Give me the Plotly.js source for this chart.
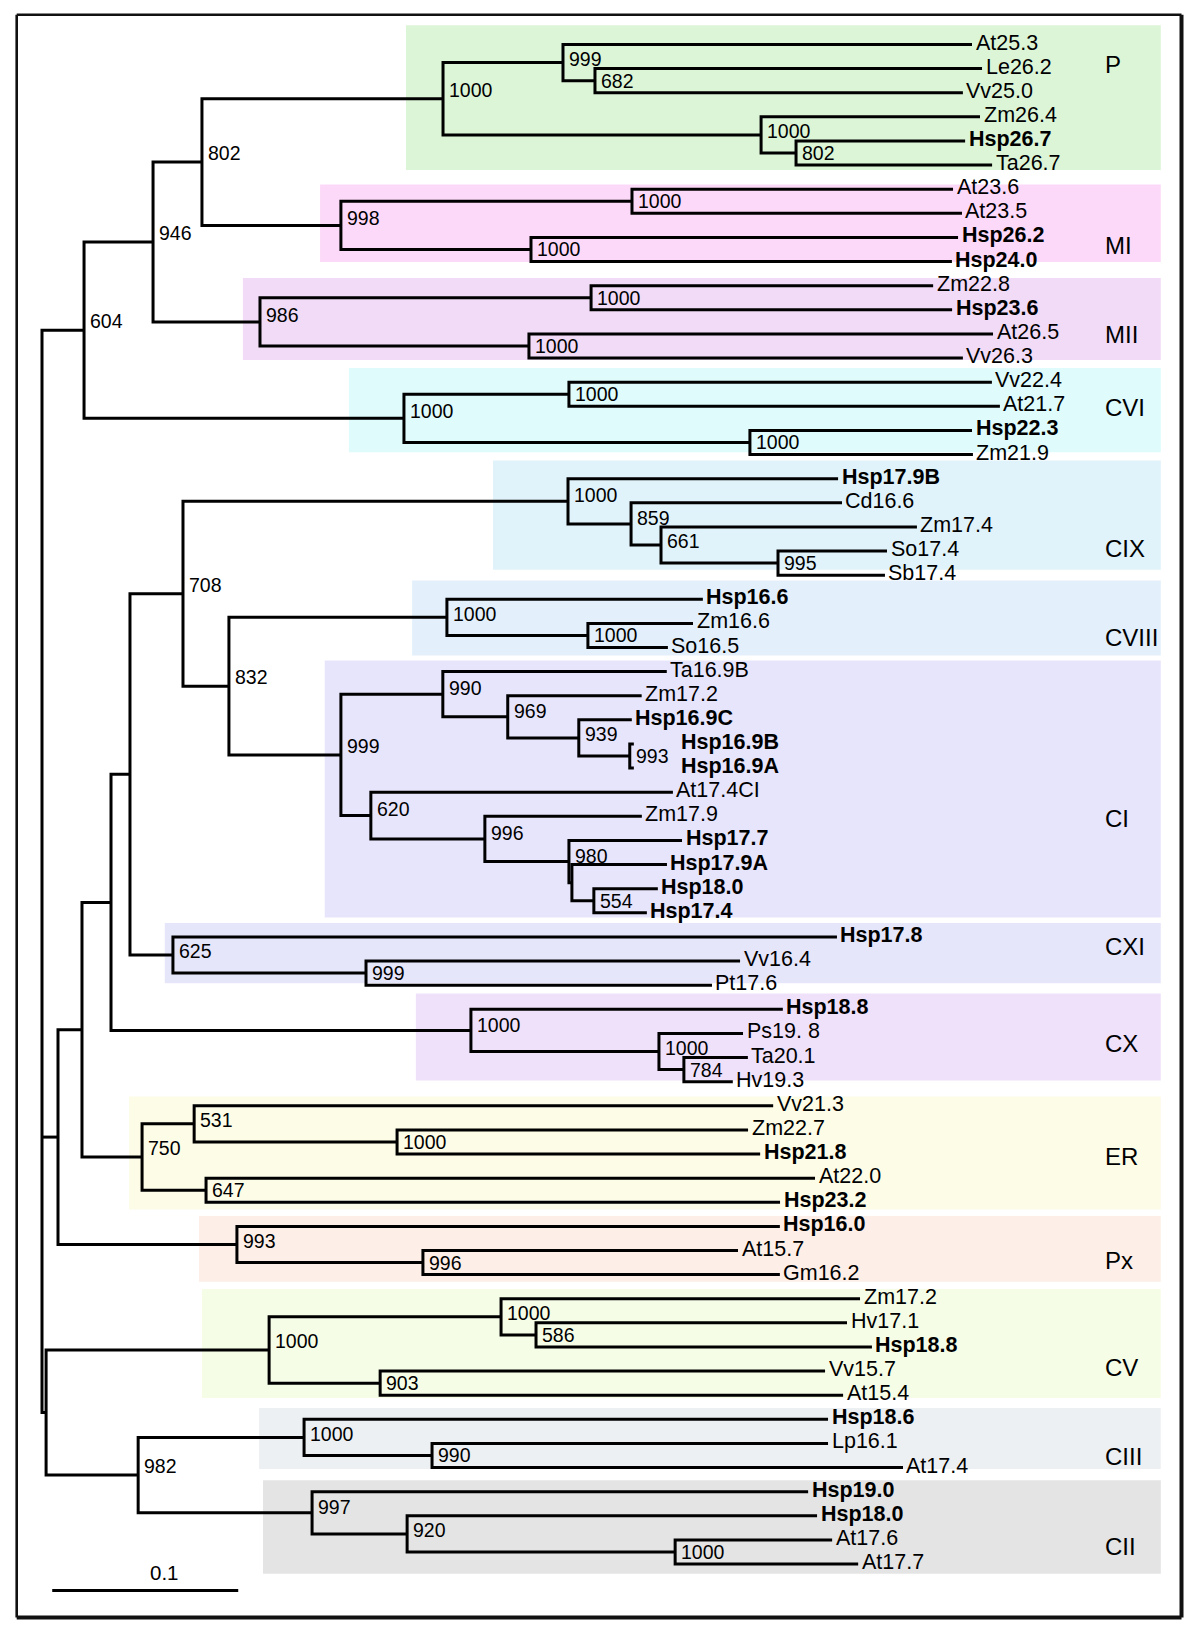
<!DOCTYPE html>
<html><head><meta charset="utf-8">
<script src="https://cdn.plot.ly/plotly-3.0.1.min.js"></script>
<style>html,body{margin:0;padding:0;background:#fff}#chart{width:1200px;height:1635px}</style>
</head><body><div id="chart"></div>
<script>
// ================= DATA =================
// Clade subtrees in Newick: branch lengths (substitutions/site) and bootstrap support (of 1000)
const cladeNames = ["P","MI","MII","CVI","CIX","CVIII","CI","CXI","CX","ER","Px","CV","CIII","CII"];
const newickP    = "((At25.3:0.2199,(Le26.2:0.2081,Vv25.0:0.1978)682:0.0172)999:0.0645,(Zm26.4:0.1177,(Hsp26.7:0.0909,Ta26.7:0.1054)802:0.0188)1000:0.1710)1000";
const newickMI   = "((At23.6:0.1726,At23.5:0.1774)1000:0.1565,(Hsp26.2:0.2296,Hsp24.0:0.2263)1000:0.1022)998";
const newickMII  = "((Zm22.8:0.1839,Hsp23.6:0.1941)1000:0.1780,(At26.5:0.2495,Vv26.3:0.2333)1000:0.1446)986";
const newickCVI  = "((Vv22.4:0.2274,At21.7:0.2317)1000:0.0887,(Hsp22.3:0.1194,Zm21.9:0.1199)1000:0.1860)1000";
const newickCIX  = "(Hsp17.9B:0.1452,(Cd16.6:0.1134,(Zm17.4:0.1376,(So17.4:0.0586,Sb17.4:0.0575)995:0.0629)661:0.0161)859:0.0339)1000";
const newickCVIII= "(Hsp16.6:0.1376,(Zm16.6:0.0565,So16.5:0.0430)1000:0.0758)1000";
const newickCI   = "((Ta16.9B:0.1204,(Zm17.2:0.0720,(Hsp16.9C:0.0285,(Hsp16.9B:0.0022,Hsp16.9A:0.0022)993:0.0274)939:0.0382)969:0.0349)990:0.0548,(At17.4CI:0.1624,(Zm17.9:0.0844,(Hsp17.7:0.0608,(Hsp17.9A:0.0511,(Hsp18.0:0.0344,Hsp17.4:0.0285)554:0.0118):0.0016)980:0.0452)996:0.0613)620:0.0161)999";
const newickCXI  = "(Hsp17.8:0.3570,(Vv16.4:0.2011,Pt17.6:0.1860)999:0.1038)625";
const newickCX   = "(Hsp18.8:0.1677,('Ps19. 8':0.0452,(Ta20.1:0.0344,Hv19.3:0.0263)784:0.0134)1000:0.1011)1000";
const newickER   = "((Vv21.3:0.3113,(Zm22.7:0.1887,Hsp21.8:0.1952)1000:0.1091)531:0.0280,(At22.0:0.3274,Hsp23.2:0.3086)647:0.0344)750";
const newickPx   = "(Hsp16.0:0.2919,(At15.7:0.1694,Gm16.2:0.1919)996:0.1000)993";
const newickCV   = "((Zm17.2:0.1930,(Hv17.1:0.1672,Hsp18.8:0.1806)586:0.0188)1000:0.1247,(Vv15.7:0.2392,At15.4:0.2489)903:0.0597)1000";
const newickCIII = "(Hsp18.6:0.2817,(Lp16.1:0.2129,At17.4:0.2532)990:0.0688)1000";
const newickCII  = "(Hsp19.0:0.2667,(Hsp18.0:0.2204,(At17.6:0.0844,At17.7:0.0984)1000:0.1441)920:0.0511)997";
// Backbone joining the clades (clade names are placeholders)
const newickBackbone = "((((P:0.1296,MI:0.0747)802:0.0263,MII:0.0575)946:0.0371,CVI:0.1720)604:0.0226,(((((CIX:0.2070,(CVIII:0.1172,CI:0.0602)832:0.0247)708:0.0285,CXI:0.0231):0.0102,CX:0.1935):0.0156,ER:0.0323):0.0129,Px:0.0962):0.0086,(CV:0.1199,(CIII:0.0892,CII:0.0935)982:0.0495):0.0022);";
const cladeNewick = {P:newickP,MI:newickMI,MII:newickMII,CVI:newickCVI,CIX:newickCIX,CVIII:newickCVIII,CI:newickCI,CXI:newickCXI,CX:newickCX,ER:newickER,Px:newickPx,CV:newickCV,CIII:newickCIII,CII:newickCII};
const highlightPrefix = "Hsp";      // genes of the studied species, shown in bold
const scaleBarLength = 0.1;
const scaleBarLabel = "0.1";

// ================= STYLE / LAYOUT =================
const W = 1200, H = 1635;
const ROOT_PX = 42, UNIT_PX = 1860, ROW0_PX = 44.5, ROW_PX = 24.12;

function fontAvailable(name){
  const c = document.createElement("canvas").getContext("2d");
  const s = "Hsp17.9B At25.3 1000 mmwwii";
  c.font = "40px monospace"; const w0 = c.measureText(s).width;
  c.font = '40px "' + name + '", monospace'; const w1 = c.measureText(s).width;
  return Math.abs(w1 - w0) > 0.5;
}
const NARROW = fontAvailable("Liberation Sans Narrow");
const FONT_REG = "Liberation Sans, Arial, Helvetica, sans-serif";
const FONT_TREE = NARROW ? "Liberation Sans Narrow, Arial Narrow, sans-serif" : FONT_REG;
const SIZE_LEAF = NARROW ? 25 : 21.5;
const SIZE_BOOT = NARROW ? 22.5 : 19.5;
const SIZE_SCALE = NARROW ? 24 : 20.5;
const SIZE_CLADE = 24;
const TXT = "#000";

const cladeStyle = {
  P:    {fill:"#dcf5d7", boxFrom:0.1957, padTop:0.80, padBottom:0.20, labelShift: 40},
  MI:   {fill:"#fcd9f8", boxFrom:0.1495, padTop:0.20, padBottom:0.02, labelShift:-20},
  MII:  {fill:"#f1dbf6", boxFrom:0.1080, padTop:0.32, padBottom:0.08, labelShift:-13},
  CVI:  {fill:"#dffbfc", boxFrom:0.1650, padTop:0.59, padBottom:-0.10, labelShift: 11},
  CIX:  {fill:"#e0f3fa", boxFrom:0.2425, padTop:0.75, padBottom:-0.22, labelShift:-22},
  CVIII:{fill:"#e3f0fb", boxFrom:0.1990, padTop:0.78, padBottom:0.33, labelShift:-14},
  CI:   {fill:"#e7e5fb", boxFrom:0.1520, padTop:0.46, padBottom:0.19, labelShift:-26},
  CXI:  {fill:"#e6e6fa", boxFrom:0.0660, padTop:0.58, padBottom:-0.08, labelShift: 15},
  CX:   {fill:"#efe1fa", boxFrom:0.2010, padTop:0.66, padBottom:-0.05, labelShift:  2},
  ER:   {fill:"#fdfce7", boxFrom:0.0468, padTop:0.38, padBottom:0.30, labelShift: -2},
  Px:   {fill:"#fdefe7", boxFrom:0.0844, padTop:0.43, padBottom:0.30, labelShift:-10},
  CV:   {fill:"#f6fde7", boxFrom:0.0860, padTop:0.40, padBottom:0.12, labelShift:-21},
  CIII: {fill:"#edf0f2", boxFrom:0.1167, padTop:0.47, padBottom:0.06, labelShift:-13},
  CII:  {fill:"#e4e4e4", boxFrom:0.1188, padTop:0.47, padBottom:0.40, labelShift:-19}
};
const leafLabelNudge = {"Hsp16.9B":44, "Hsp16.9A":44};   // px, to clear the bootstrap value
const BOX_TO = 0.6015;
const CLADE_LABEL_X = 0.5715;
const SB_X0 = 0.0055, SB_ROW = 64.1, SB_LABEL_ROW = 63.35, SB_LABEL_SHIFT = 19;

// ================= PARSING =================
function parseNewick(s){
  let i = 0;
  function node(){
    const n = {children:[], name:"", support:"", len:0};
    if (s[i] === "("){
      i++; n.children.push(node());
      while (s[i] === ","){ i++; n.children.push(node()); }
      i++; // ')'
    }
    let lab = "";
    if (s[i] === "'"){ i++; while (s[i] !== "'") lab += s[i++]; i++; }
    else { while (i < s.length && !":,();".includes(s[i])) lab += s[i++]; }
    if (n.children.length) n.support = lab.trim(); else n.name = lab.trim();
    if (s[i] === ":"){ i++; let num = ""; while (i < s.length && !",();".includes(s[i])) num += s[i++]; n.len = parseFloat(num); }
    return n;
  }
  return node();
}
const root = parseNewick(newickBackbone);
(function graft(n){
  if (!n.children.length && cladeNewick[n.name]){
    const sub = parseNewick(cladeNewick[n.name]);
    n.clade = n.name; n.name = ""; n.children = sub.children; n.support = sub.support;
  }
  n.children.forEach(graft);
})(root);

// ================= TREE LAYOUT =================
let row = 0;
(function place(n, depth){
  n.depth = depth;
  if (!n.children.length){ n.y = row++; n.first = n.last = n.y; return; }
  n.children.forEach(c => place(c, depth + c.len));
  const a = n.children[0], b = n.children[n.children.length-1];
  n.y = (a.y + b.y)/2; n.first = a.first; n.last = b.last;
})(root, 0);

const lx = [], ly = [], annotations = [], shapes = [], clades = [];
(function walk(n){
  if (n.clade) clades.push(n);
  if (!n.children.length){
    const bold = n.name.startsWith(highlightPrefix);
    annotations.push({x:n.depth, y:n.y, xref:"x", yref:"y", text: bold ? "<b>"+n.name+"</b>" : n.name,
      showarrow:false, xanchor:"left", yanchor:"middle", xshift:1.5 + (leafLabelNudge[n.name] || 0), yshift:2,
      font:{family:FONT_TREE, size:SIZE_LEAF, color:TXT}});
    return;
  }
  const k = n.children, a = k[0], b = k[k.length-1];
  lx.push(a.depth, n.depth, n.depth, b.depth, null); ly.push(a.y, a.y, b.y, b.y, null);
  for (let j = 1; j < k.length-1; j++){ lx.push(n.depth, k[j].depth, null); ly.push(k[j].y, k[j].y, null); }
  if (n.support){
    const half = (b.y - a.y)/2*ROW_PX;
    const up = Math.min(9, Math.max(0, (half-12)*0.6));
    annotations.push({x:n.depth, y:n.y, xref:"x", yref:"y", text:n.support, showarrow:false,
      xanchor:"left", yanchor:"middle", xshift:4, yshift:up, font:{family:FONT_TREE, size:SIZE_BOOT, color:TXT}});
  }
  k.forEach(walk);
})(root);

clades.forEach(c => {
  const st = cladeStyle[c.clade];
  shapes.push({type:"rect", xref:"x", yref:"y", layer:"below", x0:st.boxFrom, x1:BOX_TO,
    y0:c.first-st.padTop, y1:c.last+st.padBottom, fillcolor:st.fill, line:{width:0}});
  annotations.push({x:CLADE_LABEL_X, y:(c.first+c.last)/2, xref:"x", yref:"y", text:c.clade, showarrow:false,
    xanchor:"left", yanchor:"middle", xshift:-2, yshift:st.labelShift, font:{family:FONT_REG, size:SIZE_CLADE, color:TXT}});
});

// frame (thin top/left, heavier right/bottom)
const FX0 = 16.7/W, FX1 = 1181.5/W, FY0 = 1-14.7/H, FY1 = 1-1617.5/H;
shapes.push({type:"line", xref:"paper", yref:"paper", x0:FX0, x1:FX1, y0:FY0, y1:FY0, line:{color:"#111", width:2.6}});
shapes.push({type:"line", xref:"paper", yref:"paper", x0:FX0, x1:FX0, y0:FY0, y1:FY1, line:{color:"#111", width:2.6}});
shapes.push({type:"line", xref:"paper", yref:"paper", x0:FX1, x1:FX1, y0:FY0, y1:FY1, line:{color:"#111", width:4}});
shapes.push({type:"line", xref:"paper", yref:"paper", x0:FX0, x1:FX1, y0:FY1, y1:FY1, line:{color:"#111", width:4}});

annotations.push({x:SB_X0+scaleBarLength/2, y:SB_LABEL_ROW, xref:"x", yref:"y", text:scaleBarLabel, showarrow:false,
  xanchor:"center", yanchor:"middle", xshift:SB_LABEL_SHIFT, font:{family:FONT_TREE, size:SIZE_SCALE, color:TXT}});

const traces = [
  {type:"scatter", mode:"lines", x:lx, y:ly, line:{color:"#000", width:3}, hoverinfo:"skip", connectgaps:false},
  {type:"scatter", mode:"lines", x:[SB_X0, SB_X0+scaleBarLength], y:[SB_ROW, SB_ROW], line:{color:"#000", width:3}, hoverinfo:"skip"}
];

const layout = {
  width:W, height:H, margin:{l:0, r:0, t:0, b:0}, showlegend:false,
  paper_bgcolor:"#fff", plot_bgcolor:"rgba(0,0,0,0)",
  xaxis:{range:[-ROOT_PX/UNIT_PX, (W-ROOT_PX)/UNIT_PX], visible:false, fixedrange:true},
  yaxis:{range:[(H-ROW0_PX)/ROW_PX, -ROW0_PX/ROW_PX], visible:false, fixedrange:true},
  shapes:shapes, annotations:annotations
};
Plotly.newPlot("chart", traces, layout, {staticPlot:true, displayModeBar:false});
</script></body></html>
